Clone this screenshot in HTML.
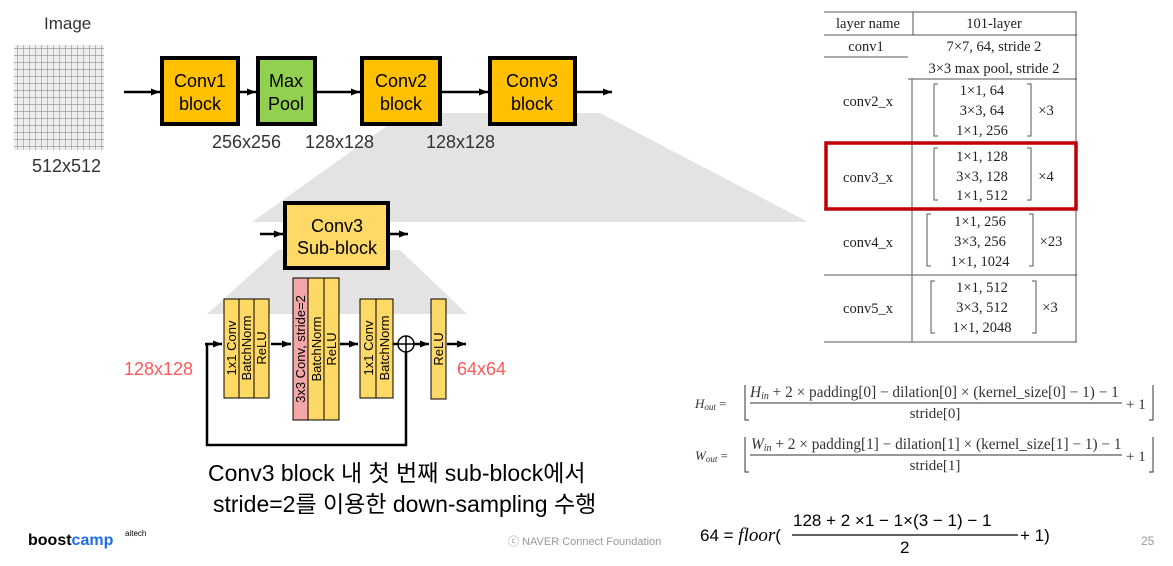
<!DOCTYPE html>
<html><head><meta charset="utf-8"><style>
body{margin:0;width:1173px;height:566px;background:#fff;position:relative;overflow:hidden;font-family:"Liberation Sans","Noto Sans CJK KR",sans-serif}
.a{position:absolute}
</style></head><body>
<svg class="a" style="left:0;top:0" width="1173" height="566">
<defs><marker id="ar" markerUnits="userSpaceOnUse" markerWidth="10" markerHeight="10" refX="9" refY="5" orient="auto"><path d="M0,1.5 L9,5 L0,8.5z" fill="#000"/></marker>
<pattern id="g" width="6" height="7" patternUnits="userSpaceOnUse"><path d="M6 0V7M0 7H6" stroke="#777" stroke-width="0.9" fill="none"/></pattern></defs>
<polygon points="405,113 600,113 808,222 252,222" fill="#e3e3e3"/>
<polygon points="278,250 400,250 467,314 207,314" fill="#e3e3e3"/>
<rect x="14" y="45" width="90" height="105" fill="#eee"/>
<rect x="14" y="45" width="90" height="105" fill="url(#g)"/>
<g stroke="#000" stroke-width="2.5" fill="none" marker-end="url(#ar)">
<line x1="124" y1="92" x2="160" y2="92"/><line x1="239" y1="92" x2="256" y2="92"/>
<line x1="316" y1="92" x2="360" y2="92"/><line x1="441" y1="92" x2="488" y2="92"/>
<line x1="576" y1="92" x2="612" y2="92"/>
<line x1="260" y1="234" x2="283" y2="234"/><line x1="390" y1="234" x2="408" y2="234"/>
<line x1="205" y1="344" x2="222" y2="344"/><line x1="271" y1="344" x2="291" y2="344"/>
<line x1="340" y1="344" x2="358" y2="344"/><line x1="414" y1="344" x2="429" y2="344"/>
<line x1="447" y1="344" x2="466" y2="344"/>
</g>
<g stroke="#000" stroke-width="2.5" fill="none">
<line x1="393" y1="344" x2="398" y2="344"/>
<polyline points="207,344 207,445 406,445 406,352"/>
</g>
<circle cx="406" cy="344" r="8" fill="#fff" stroke="#000" stroke-width="1.5"/>
<path d="M398 344H414M406 336V352" stroke="#000" stroke-width="1.5"/>
<g stroke="#000" stroke-width="4">
<rect x="162" y="58" width="76" height="66" fill="#ffc000"/>
<rect x="258" y="58" width="57" height="66" fill="#92d050"/>
<rect x="362" y="58" width="78" height="66" fill="#ffc000"/>
<rect x="490" y="58" width="85" height="66" fill="#ffc000"/>
<rect x="285" y="203" width="103" height="65" fill="#ffd966"/>
</g>
<g stroke="#000" stroke-width="1">
<rect x="224" y="299" width="15" height="99" fill="#ffd966"/><rect x="239" y="299" width="15" height="99" fill="#ffd966"/><rect x="254" y="299" width="15" height="99" fill="#ffd966"/>
<rect x="293" y="278" width="15" height="142" fill="#f4a7a7"/><rect x="308" y="278" width="16" height="142" fill="#ffd966"/><rect x="324" y="278" width="15" height="142" fill="#ffd966"/>
<rect x="360" y="299" width="16" height="99" fill="#ffd966"/><rect x="376" y="299" width="17" height="99" fill="#ffd966"/>
<rect x="431" y="299" width="15" height="100" fill="#ffd966"/>
</g>
<g font-size="13" fill="#000" text-anchor="middle">
<text transform="translate(236,348) rotate(-90)">1x1 Conv</text>
<text transform="translate(251,348) rotate(-90)">BatchNorm</text>
<text transform="translate(266,348) rotate(-90)">ReLU</text>
<text transform="translate(305,349) rotate(-90)">3x3 Conv, stride=2</text>
<text transform="translate(321,349) rotate(-90)">BatchNorm</text>
<text transform="translate(336,349) rotate(-90)">ReLU</text>
<text transform="translate(373,348) rotate(-90)">1x1 Conv</text>
<text transform="translate(389,348) rotate(-90)">BatchNorm</text>
<text transform="translate(443,349) rotate(-90)">ReLU</text>
</g>
<g font-size="18" fill="#000" text-anchor="middle">
<text x="200" y="87">Conv1</text><text x="200" y="110">block</text>
<text x="286" y="87">Max</text><text x="286" y="110">Pool</text>
<text x="401" y="87">Conv2</text><text x="401" y="110">block</text>
<text x="532" y="87">Conv3</text><text x="532" y="110">block</text>
<text x="337" y="232">Conv3</text><text x="337" y="254">Sub-block</text>
</g>
<g font-size="18" fill="#333">
<text x="44" y="29" font-size="17">Image</text>
<text x="32" y="172">512x512</text>
<text x="212" y="148">256x256</text><text x="305" y="148">128x128</text><text x="426" y="148">128x128</text>
<text x="124" y="375" fill="#ff5a5a">128x128</text><text x="457" y="375" fill="#ff5a5a">64x64</text>
</g>
<g font-size="23" fill="#000"><text x="208" y="481">Conv3 block 내 첫 번째 sub-block에서</text><text x="213" y="512">stride=2를 이용한 down-sampling 수행</text></g>
<text x="28" y="545" font-size="16" font-weight="bold" fill="#000">boost<tspan fill="#1e6cf0">camp</tspan></text>
<text x="125" y="536" font-size="8" fill="#000">aitech</text>
<text x="508" y="545" font-size="11" fill="#999">ⓒ  NAVER Connect Foundation</text>
<text x="1141" y="545" font-size="12" fill="#999">25</text>
<g stroke="#555" stroke-width="1" fill="none">
<line x1="824" y1="12" x2="1077" y2="12"/><line x1="824" y1="35" x2="1077" y2="35"/>
<line x1="824" y1="57" x2="908" y2="57"/><line x1="908" y1="79" x2="1077" y2="79"/>
<line x1="824" y1="209" x2="1077" y2="209"/><line x1="824" y1="275" x2="1077" y2="275"/>
<line x1="824" y1="342" x2="1077" y2="342"/>
<line x1="913" y1="12" x2="913" y2="35"/><line x1="912" y1="79" x2="912" y2="342"/>
<line x1="1076" y1="12" x2="1076" y2="342"/>
<path d="M938 84h-4v52h4M1027 84h4v52h-4M938 148h-4v52h4M1027 148h4v52h-4M931 214h-4v52h4M1029 214h4v52h-4M935 281h-4v52h4M1032 281h4v52h-4"/>
</g>
<rect x="826" y="143" width="250" height="66" fill="none" stroke="#c00000" stroke-width="3.5"/>
<g font-family="Liberation Serif,serif" font-size="14.5" fill="#222" text-anchor="middle">
<text x="868" y="28">layer name</text><text x="994" y="28">101-layer</text>
<text x="866" y="51">conv1</text><text x="994" y="51">7×7, 64, stride 2</text>
<text x="994" y="73">3×3 max pool, stride 2</text>
<text x="868" y="106">conv2_x</text><text x="982" y="95">1×1, 64</text><text x="982" y="115">3×3, 64</text><text x="982" y="135">1×1, 256</text><text x="1046" y="115">×3</text>
<text x="868" y="182">conv3_x</text><text x="982" y="161">1×1, 128</text><text x="982" y="181">3×3, 128</text><text x="982" y="200">1×1, 512</text><text x="1046" y="181">×4</text>
<text x="868" y="247">conv4_x</text><text x="980" y="226">1×1, 256</text><text x="980" y="246">3×3, 256</text><text x="980" y="266">1×1, 1024</text><text x="1051" y="246">×23</text>
<text x="868" y="313">conv5_x</text><text x="982" y="292">1×1, 512</text><text x="982" y="312">3×3, 512</text><text x="982" y="332">1×1, 2048</text><text x="1050" y="312">×3</text>
</g>
<g font-family="Liberation Serif,serif" fill="#333">
<text x="695" y="408" font-size="13" font-style="italic">H<tspan font-size="9" dy="2">out</tspan><tspan dy="-2" font-style="normal"> =</tspan></text>
<text x="695" y="460" font-size="13" font-style="italic">W<tspan font-size="9" dy="2">out</tspan><tspan dy="-2" font-style="normal"> =</tspan></text>
<text x="750" y="397" font-size="15.3"><tspan font-style="italic">H<tspan font-size="10" dy="2">in</tspan></tspan><tspan dy="-2"> + 2 × padding[0] − dilation[0] × (kernel_size[0] − 1) − 1</tspan></text>
<text x="935" y="418" font-size="15" text-anchor="middle">stride[0]</text>
<text x="1126" y="409" font-size="15">+ 1</text>
<text x="751" y="449" font-size="15.3"><tspan font-style="italic">W<tspan font-size="10" dy="2">in</tspan></tspan><tspan dy="-2"> + 2 × padding[1] − dilation[1] × (kernel_size[1] − 1) − 1</tspan></text>
<text x="935" y="470" font-size="15" text-anchor="middle">stride[1]</text>
<text x="1126" y="461" font-size="15">+ 1</text>
</g>
<g stroke="#333" stroke-width="1" fill="none">
<line x1="750" y1="403" x2="1122" y2="403"/><line x1="750" y1="455" x2="1122" y2="455"/>
<path d="M745 385v35h4M1153 385v35h-4M745 437v35h4M1153 437v35h-4"/>
<line x1="792" y1="535" x2="1018" y2="535" stroke="#000" stroke-width="1.3"/>
</g>
<g font-size="17" fill="#000">
<text x="700" y="541">64 = <tspan font-family="Liberation Serif,serif" font-style="italic" font-size="19">floor</tspan>(</text>
<text x="793" y="526" font-size="17">128 + 2 ×1  − 1×(3  − 1) − 1</text>
<text x="900" y="553" font-size="17">2</text>
<text x="1020" y="541">+ 1)</text>
</g>
</svg>
</body></html>
